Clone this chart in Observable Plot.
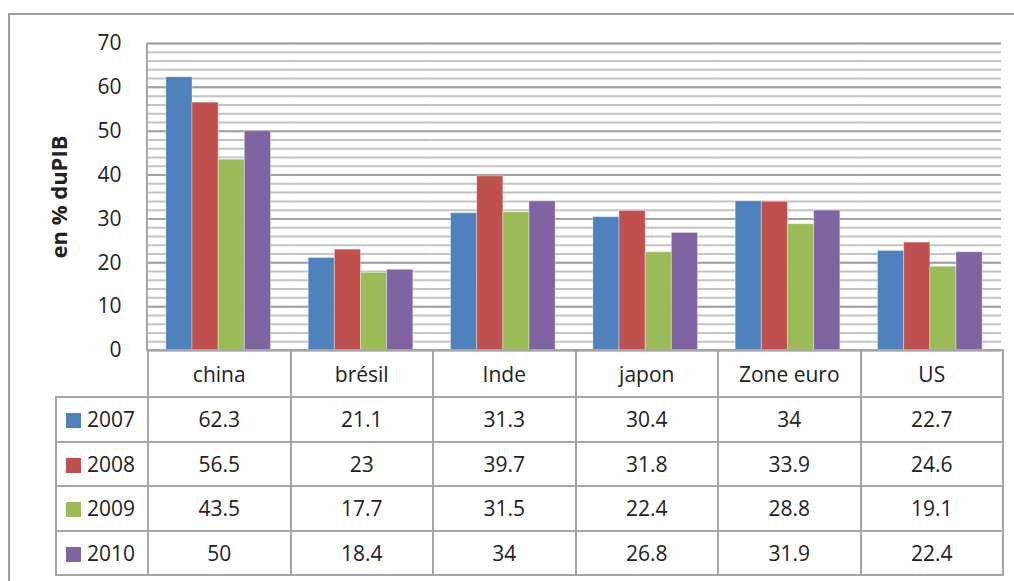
<!DOCTYPE html>
<html>
<head>
<meta charset="utf-8">
<script src="https://cdn.jsdelivr.net/npm/d3@7"></script>
<script src="https://cdn.jsdelivr.net/npm/@observablehq/plot@0.6"></script>
<style>
  html, body { margin: 0; padding: 0; background: #fff; overflow: hidden; }
  body { width: 1014px; height: 581px; position: relative; font-family: "Open Sans", sans-serif; color: #222; }
  #frame { position: absolute; left: 8px; top: 13px; width: 1020px; height: 580px; border: 2px solid #9d9d9d; box-sizing: border-box; }
  #chart { position: absolute; left: 0; top: 0; }
  #axisline { position: absolute; left: 146px; top: 43px; width: 2px; height: 308px; background: #a6a6a6; }
  #tbl { position: absolute; left: 55px; top: 349px; border-collapse: collapse; table-layout: fixed; width: 947px; font-size: 21px; color: #222; }
  #tbl td { border: 2px solid #a6a6a6; text-align: center; padding: 0; white-space: nowrap; }
  #tbl td.corner { border-top: none; border-left: none; }
  #tbl td.leg { text-align: left; padding-left: 9px; }
  .sw { display: inline-block; width: 15px; height: 15px; margin-right: 6px; vertical-align: -1px; }
  svg [aria-label="y-axis label"] text { font-weight: bold; font-size: 22px; }
</style>
</head>
<body>
<div id="frame"></div>
<div id="chart"></div>
<div id="axisline"></div>
<table id="tbl"></table>
<script>
const categories = ["china", "brésil", "Inde", "japon", "Zone euro", "US"];
const years = ["2007", "2008", "2009", "2010"];
const v2007 = [62.3, 21.1, 31.3, 30.4, 34, 22.7];
const v2008 = [56.5, 23, 39.7, 31.8, 33.9, 24.6];
const v2009 = [43.5, 17.7, 31.5, 22.4, 28.8, 19.1];
const v2010 = [50, 18.4, 34, 26.8, 31.9, 22.4];
const colors = ["#4F81BD", "#C0504D", "#9BBB59", "#8064A2"];
const yTicks = [0, 10, 20, 30, 40, 50, 60, 70];
const yLabel = "en % duPIB";

const series = [v2007, v2008, v2009, v2010];
const data = categories.flatMap((c, i) => years.map((y, j) => ({country: c, year: y, value: series[j][i]})));

const chart = Plot.plot({
  width: 1014,
  height: 360,
  marginLeft: 147,
  marginRight: 13,
  marginTop: 43,
  marginBottom: 10,
  style: {fontFamily: "Open Sans, sans-serif", fontSize: "21px", color: "#222", background: "transparent", overflow: "visible"},
  fx: {domain: categories, padding: 0, round: false, axis: null},
  x: {domain: years, paddingInner: 0, paddingOuter: 0.72, round: false, axis: null},
  y: {domain: [0, 70]},
  color: {domain: years, range: colors},
  marks: [
    Plot.gridY({interval: 2, stroke: "#c4c4c4", strokeOpacity: 1, strokeWidth: 2}),
    Plot.gridY(yTicks, {stroke: "#a2a2a2", strokeOpacity: 1, strokeWidth: 2}),
    Plot.barY(data, {fx: "country", x: "year", y: "value", fill: "year", stroke: "#ffffff", strokeOpacity: 0.35, strokeWidth: 1}),
    Plot.axisY({ticks: yTicks, tickSize: 0, tickPadding: 26, label: yLabel, labelAnchor: "center", labelArrow: "none", labelOffset: 96})
  ]
});
document.getElementById("chart").appendChild(chart);

// data table
const tbl = document.getElementById("tbl");
const cg = document.createElement("colgroup");
[92, ...categories.map(() => 142.5)].forEach(w => { const c = document.createElement("col"); c.style.width = w + "px"; cg.appendChild(c); });
tbl.appendChild(cg);
const head = document.createElement("tr");
head.style.height = "47px";
const corner = document.createElement("td"); corner.className = "corner"; head.appendChild(corner);
categories.forEach(c => { const td = document.createElement("td"); td.textContent = c; head.appendChild(td); });
tbl.appendChild(head);
years.forEach((y, j) => {
  const tr = document.createElement("tr");
  tr.style.height = "44.5px";
  const lg = document.createElement("td"); lg.className = "leg";
  const sw = document.createElement("span"); sw.className = "sw"; sw.style.background = colors[j];
  lg.appendChild(sw); lg.appendChild(document.createTextNode(y));
  tr.appendChild(lg);
  series[j].forEach(v => { const td = document.createElement("td"); td.textContent = String(v); tr.appendChild(td); });
  tbl.appendChild(tr);
});
</script>
</body>
</html>
